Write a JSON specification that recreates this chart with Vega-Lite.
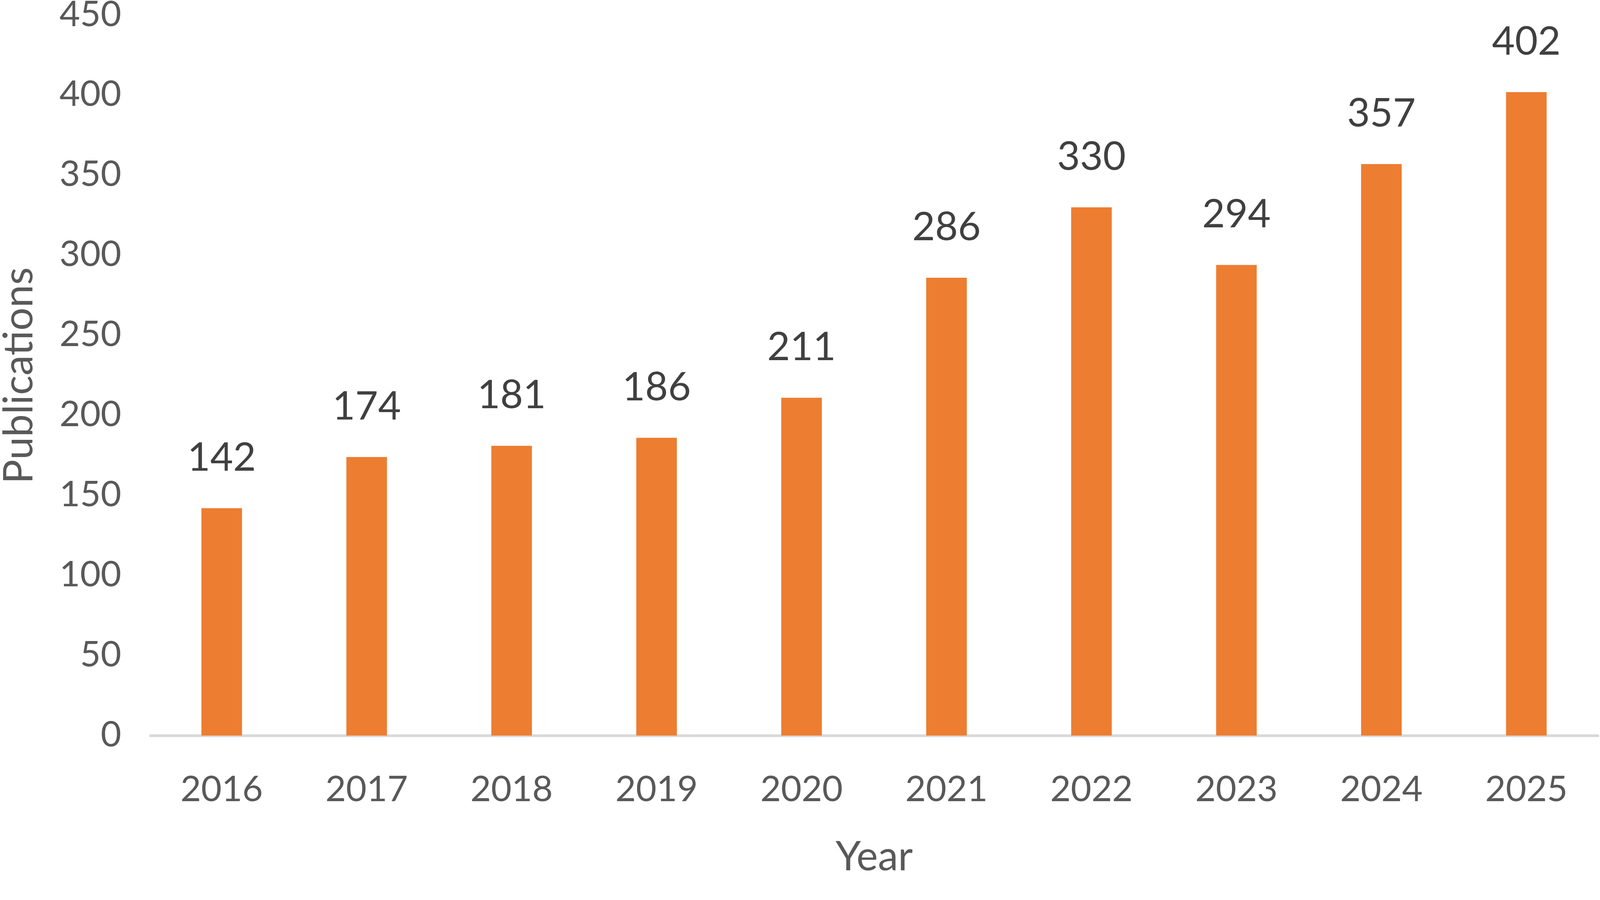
{
  "$schema": "https://vega.github.io/schema/vega-lite/v6.json",
  "description": "Publications per year, 2016-2025",
  "autosize": "none",
  "width": 3711,
  "height": 1844,
  "padding": {"left": 382, "top": 39, "right": 7, "bottom": 349},
  "background": "white",
  "data": {
    "values": [
      {"year": "2016", "publications": 142},
      {"year": "2017", "publications": 174},
      {"year": "2018", "publications": 181},
      {"year": "2019", "publications": 186},
      {"year": "2020", "publications": 211},
      {"year": "2021", "publications": 286},
      {"year": "2022", "publications": 330},
      {"year": "2023", "publications": 294},
      {"year": "2024", "publications": 357},
      {"year": "2025", "publications": 402}
    ]
  },
  "encoding": {
    "x": {
      "field": "year",
      "type": "ordinal",
      "scale": {"paddingInner": 0.72, "paddingOuter": 0.36},
      "axis": {
        "title": "Year",
        "labelAngle": 0,
        "labelPadding": 167,
        "labelBaseline": "alphabetic",
        "labelLimit": 1000,
        "ticks": false,
        "tickSize": 0,
        "domainColor": "#D9D9D9",
        "domainWidth": 7,
        "titleY": 344,
        "titleBaseline": "alphabetic"
      }
    },
    "y": {
      "field": "publications",
      "type": "quantitative",
      "scale": {"domain": [0, 450], "nice": false},
      "axis": {
        "title": "Publications",
        "values": [0, 50, 100, 150, 200, 250, 300, 350, 400, 450],
        "domain": false,
        "ticks": false,
        "tickSize": 0,
        "grid": false,
        "labelPadding": 72,
        "titleX": -300,
        "titleY": 922,
        "titleAngle": -90,
        "titleAlign": "center",
        "titleBaseline": "alphabetic"
      }
    }
  },
  "layer": [
    {"mark": {"type": "bar", "color": "#ED7D31"}},
    {
      "mark": {
        "type": "text",
        "baseline": "alphabetic",
        "dy": -96,
        "fontSize": 101,
        "font": "Lato",
        "color": "#404040"
      },
      "encoding": {"text": {"field": "publications", "type": "quantitative"}}
    }
  ],
  "config": {
    "font": "Lato",
    "view": {"stroke": null},
    "axis": {
      "labelFont": "Lato",
      "labelFontSize": 91,
      "labelColor": "#595959",
      "labelFontWeight": "normal",
      "titleFont": "Lato",
      "titleFontSize": 104,
      "titleColor": "#595959",
      "titleFontWeight": "normal"
    }
  }
}
